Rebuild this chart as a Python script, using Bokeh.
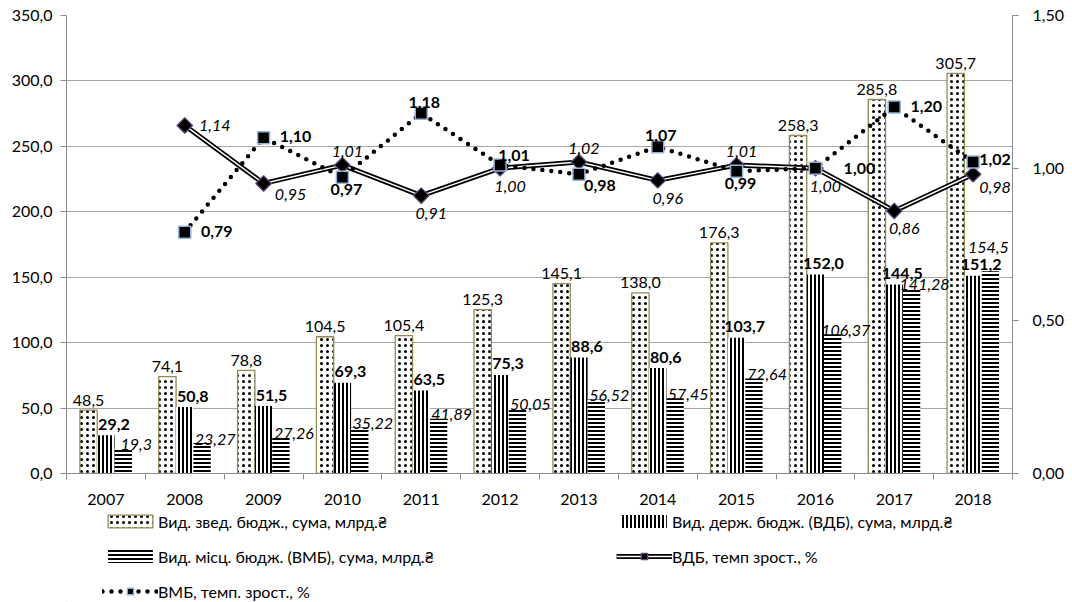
import numpy as np
from bokeh.plotting import figure
from bokeh.layouts import column
from bokeh.models import (ColumnDataSource, Range1d, LinearAxis, FixedTicker,
                          Legend, LegendItem, LabelSet)
from bokeh.embed import file_html
from bokeh.resources import INLINE
from bokeh.core.properties import value

# ---------------- data ----------------
years = ["2007", "2008", "2009", "2010", "2011", "2012",
         "2013", "2014", "2015", "2016", "2017", "2018"]
total = [48.5, 74.1, 78.8, 104.5, 105.4, 125.3, 145.1, 138.0, 176.3, 258.3, 285.8, 305.7]
vdb = [29.2, 50.8, 51.5, 69.3, 63.5, 75.3, 88.6, 80.6, 103.7, 152.0, 144.5, 151.2]
vmb = [19.3, 23.27, 27.26, 35.22, 41.89, 50.05, 56.52, 57.45, 72.64, 106.37, 141.28, 154.5]

rate_years = years[1:]
vdb_rate = [1.14, 0.95, 1.01, 0.91, 1.00, 1.02, 0.96, 1.01, 1.00, 0.86, 0.98]
vmb_rate = [0.79, 1.10, 0.97, 1.18, 1.01, 0.98, 1.07, 0.99, 1.00, 1.20, 1.02]

# label placement keys (style, not data)
vmb_lab_pos = ["r", "r", "r", "r", "r", "r", "r", "r", "r", "r", "r", "u"]
vdb_rate_pos = ["r", "rb", "a", "b", "b", "a", "b", "a", "b", "b", "rb2"]
vmb_rate_pos = ["r", "r", "b", "a", "ar", "rb", "a", "b", "rr", "r", "rl"]

y_ticks = [0, 50, 100, 150, 200, 250, 300, 350]
rate_ticks = [0.0, 0.5, 1.0, 1.5]

legend_labels = ["Вид. звед. бюдж., сума, млрд.₴",
                 "Вид. держ. бюдж. (ВДБ), сума, млрд.₴",
                 "Вид. місц. бюдж. (ВМБ), сума, млрд.₴",
                 "ВДБ, темп зрост., %",
                 "ВМБ, темп. зрост., %"]

FONT = "Lato"
FS = "16px"
GRAY = "#8C8C8C"

# styles
tot_style = dict(fill_color="white", line_color="#948A54", line_width=1.3,
                 hatch_pattern="dot", hatch_color="black", hatch_scale=6, hatch_weight=0.8)
vdb_style = dict(fill_color="white", line_color=None, hatch_pattern="vertical_line",
                 hatch_color="black", hatch_scale=4, hatch_weight=2)
vmb_style = dict(fill_color="white", line_color=None, hatch_pattern="horizontal_line",
                 hatch_color="black", hatch_scale=4, hatch_weight=2)
outer_style = dict(line_color="black", line_width=5)
inner_style = dict(line_color="white", line_width=1.5)
dia_style = dict(marker="square", angle=np.pi / 4, size=11, fill_color="black",
                 line_color="#604A7B", line_width=1.3)
dot_style = dict(line_color="black", line_width=4.5, line_dash="0 9", line_cap="round")
sq_style = dict(marker="square", size=12, fill_color="black", line_color="#95B3D7", line_width=1.5)

# ---------------- main figure ----------------
n = len(years)
idx = np.arange(n)
centers = idx + 0.5
bw = 0.22

p = figure(width=1072, height=510, x_range=Range1d(0, n), y_range=Range1d(0, 350),
           output_backend="svg", toolbar_location=None,
           min_border_left=66, min_border_right=60, min_border_top=15, min_border_bottom=37)
p.extra_y_ranges = {"rate": Range1d(0, 1.5)}
p.outline_line_color = None
p.background_fill_color = "white"
p.border_fill_color = "white"

vmb_lab_off = {"r": (13, -4), "u": (-2, -24)}
src = ColumnDataSource(dict(
    x_tot=centers - bw, x_vdb=centers, x_vmb=centers + bw,
    total=total, vdb=vdb, vmb=vmb,
    l_tot=[f"{v:.1f}".replace(".", ",") for v in total],
    l_vdb=[f"{v:.1f}".replace(".", ",") for v in vdb],
    l_vmb=[str(v).replace(".", ",") for v in vmb],
    xo_vmb=[vmb_lab_off[k][0] for k in vmb_lab_pos],
    yo_vmb=[-vmb_lab_off[k][1] for k in vmb_lab_pos],
))

p.vbar(x="x_tot", top="total", width=bw, bottom=0, source=src, **tot_style)
p.vbar(x="x_vdb", top="vdb", width=bw, bottom=0, source=src, **vdb_style)
p.vbar(x="x_vmb", top="vmb", width=bw, bottom=0, source=src, **vmb_style)

lab_kw = dict(text_align="center", text_baseline="middle", text_font=value(FONT),
              text_font_size=FS, text_color="black")
p.add_layout(LabelSet(x="x_tot", y="total", text="l_tot", source=src,
                      x_offset=0, y_offset=10, **lab_kw))
p.add_layout(LabelSet(x="x_vdb", y="vdb", text="l_vdb", source=src,
                      x_offset=8, y_offset=11, text_font_style="bold", **lab_kw))
p.add_layout(LabelSet(x="x_vmb", y="vmb", text="l_vmb", source=src,
                      x_offset="xo_vmb", y_offset="yo_vmb", text_font_style="italic", **lab_kw))

# ---------------- rate lines ----------------
rx = centers[1:]
# (dx, dy) in screen px, dy positive = downwards
vdb_off = {"r": (30, 0), "rb": (27, 11), "rb2": (22, 13), "a": (5, -14), "b": (10, 18)}
vmb_off = {"r": (32, -1), "rr": (44, 0), "rl": (22, -3), "a": (3, -11), "ar": (14, -10),
           "rb": (21, 11), "b": (4, 12)}

rsrc = ColumnDataSource(dict(
    x=rx, vdb_rate=vdb_rate, vmb_rate=vmb_rate,
    l_vdb=[f"{v:.2f}".replace(".", ",") for v in vdb_rate],
    l_vmb=[f"{v:.2f}".replace(".", ",") for v in vmb_rate],
    xo_vdb=[vdb_off[k][0] for k in vdb_rate_pos],
    yo_vdb=[-vdb_off[k][1] for k in vdb_rate_pos],
    xo_vmb=[vmb_off[k][0] for k in vmb_rate_pos],
    yo_vmb=[-vmb_off[k][1] for k in vmb_rate_pos],
))

p.line("x", "vdb_rate", source=rsrc, y_range_name="rate", **outer_style)
p.line("x", "vdb_rate", source=rsrc, y_range_name="rate", **inner_style)
p.scatter("x", "vdb_rate", source=rsrc, y_range_name="rate", **dia_style)
p.line("x", "vmb_rate", source=rsrc, y_range_name="rate", **dot_style)
p.scatter("x", "vmb_rate", source=rsrc, y_range_name="rate", **sq_style)

p.add_layout(LabelSet(x="x", y="vdb_rate", text="l_vdb", source=rsrc, y_range_name="rate",
                      x_offset="xo_vdb", y_offset="yo_vdb", text_font_style="italic", **lab_kw))
p.add_layout(LabelSet(x="x", y="vmb_rate", text="l_vmb", source=rsrc, y_range_name="rate",
                      x_offset="xo_vmb", y_offset="yo_vmb", text_font_style="bold", **lab_kw))

# ---------------- axes ----------------
ya = p.yaxis[0]
ya.ticker = FixedTicker(ticks=y_ticks)
ya.major_label_overrides = {t: f"{t:.1f}".replace(".", ",") for t in y_ticks}
xa = p.xaxis[0]
xa.ticker = FixedTicker(ticks=[float(c) for c in centers], minor_ticks=[float(i) for i in range(n + 1)])
xa.major_label_overrides = {float(c): y for c, y in zip(centers, years)}
xa.major_tick_out = 0
xa.major_tick_in = 0
xa.minor_tick_out = 6
xa.minor_tick_in = 0
xa.major_label_standoff = 14

ra = LinearAxis(y_range_name="rate", ticker=FixedTicker(ticks=rate_ticks))
ra.major_label_overrides = {t: f"{t:.2f}".replace(".", ",") for t in rate_ticks}
p.add_layout(ra, "right")

for ax in (ya, xa, ra):
    ax.axis_line_color = GRAY
    ax.major_tick_line_color = GRAY
    ax.major_label_text_font = FONT
    ax.major_label_text_font_size = FS
    ax.major_label_text_color = "black"
    ax.minor_tick_line_color = GRAY if ax is xa else None
for ax in (ya, ra):
    ax.major_tick_out = 6
    ax.major_tick_in = 0
ya.major_label_standoff = 8
ra.major_label_standoff = 14

p.ygrid.ticker = FixedTicker(ticks=y_ticks)
p.ygrid.grid_line_color = "#A6A6A6"
p.xgrid.visible = False

# ---------------- legend strip ----------------
q = figure(width=1072, height=92, x_range=Range1d(0, 1), y_range=Range1d(0, 1),
           output_backend="svg", toolbar_location=None, x_axis_type=None, y_axis_type=None,
           min_border_left=66, min_border_right=60, min_border_top=0, min_border_bottom=0)
q.outline_line_color = None
q.grid.visible = False
q.background_fill_color = "white"
q.border_fill_color = "white"
# swatch-only renderers, kept outside the visible range
g_tot = q.vbar(x=[-5], top=[-5], bottom=[-6], width=0.1, **tot_style)
g_vdb = q.vbar(x=[-5], top=[-5], bottom=[-6], width=0.1, **vdb_style)
g_vmb = q.vbar(x=[-5], top=[-5], bottom=[-6], width=0.1, **vmb_style)
g_l1 = q.line(x=[-5, -4], y=[-5, -5], **outer_style)
g_l2 = q.line(x=[-5, -4], y=[-5, -5], **inner_style)
g_m1 = q.scatter(x=[-5], y=[-5], **dia_style)
g_l3 = q.line(x=[-5, -4], y=[-5, -5], **dot_style)
g_m2 = q.scatter(x=[-5], y=[-5], **sq_style)

leg_kw = dict(orientation="vertical", border_line_color=None, background_fill_alpha=0,
              padding=0, margin=0, spacing=15, glyph_width=56, glyph_height=16,
              label_height=20, label_standoff=0, label_text_font=FONT,
              label_text_font_size=FS, label_text_color="black")
leg1 = Legend(items=[
    LegendItem(label=legend_labels[0], renderers=[g_tot]),
    LegendItem(label=legend_labels[2], renderers=[g_vmb]),
    LegendItem(label=legend_labels[4], renderers=[g_l3, g_m2]),
], location=(36, 1), **leg_kw)
leg2 = Legend(items=[
    LegendItem(label=legend_labels[1], renderers=[g_vdb]),
    LegendItem(label=legend_labels[3], renderers=[g_l1, g_l2, g_m1]),
], location=(550, 36), **leg_kw)
q.add_layout(leg1)
q.add_layout(leg2)

layout = column(p, q, spacing=0)
open("out.html", "w").write(file_html(layout, INLINE))
